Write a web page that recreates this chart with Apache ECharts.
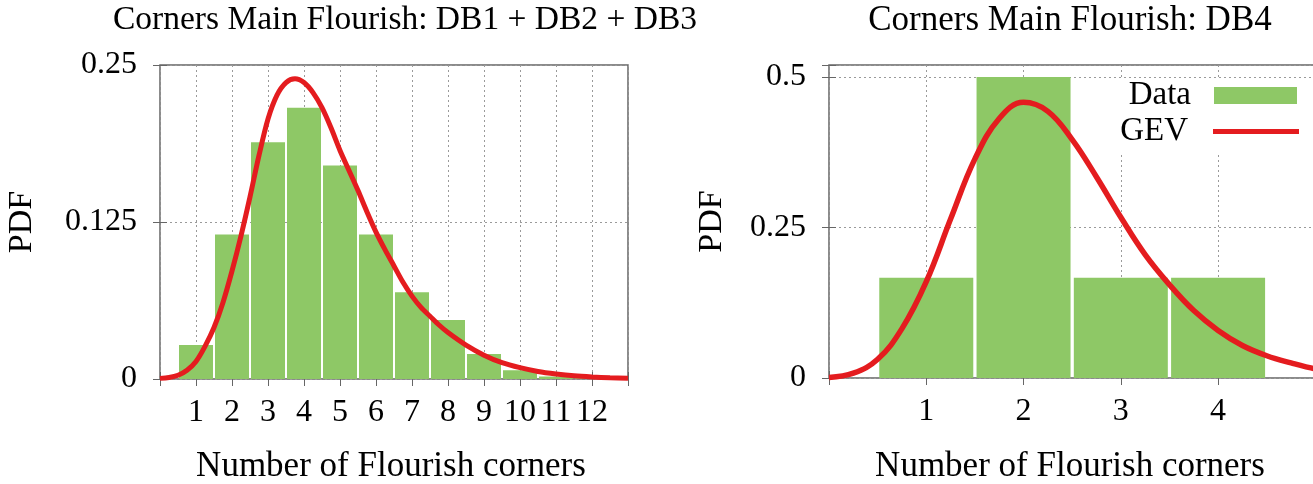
<!DOCTYPE html>
<html>
<head>
<meta charset="utf-8">
<title>Corners Main Flourish</title>
<script src="https://cdn.jsdelivr.net/npm/echarts@6/dist/echarts.min.js"></script>
<style>
  html, body { margin: 0; padding: 0; background: #fff; overflow: hidden; }
  /* the DB4 panel runs past the right edge of the window */
  #chart { width: 1400px; height: 484px; }
</style>
</head>
<body>
<div id="chart"></div>
<script>
// Histogram of flourish corner counts, DB1 + DB2 + DB3
const leftCorners = [1, 2, 3, 4, 5, 6, 7, 8, 9, 10, 11, 12];
const leftPdf = [0.027, 0.115, 0.1885, 0.216, 0.17, 0.115, 0.069, 0.047, 0.020, 0.007, 0.002, 0.001];
// Fitted GEV density, DB1 + DB2 + DB3
const leftFitX = [0, 0.25, 0.5, 0.75, 1, 1.25, 1.5, 1.75, 2, 2.25, 2.5, 2.75, 3, 3.25, 3.5, 3.75, 4, 4.25, 4.5, 4.75, 5, 5.25, 5.5, 5.75, 6, 6.25, 6.5, 6.75, 7, 7.25, 7.5, 7.75, 8, 8.5, 9, 9.5, 10, 10.5, 11, 11.5, 12, 12.5, 13];
const leftFitY = [0.0005, 0.0012, 0.003, 0.007, 0.014, 0.026, 0.041, 0.061, 0.086, 0.114, 0.145, 0.178, 0.207, 0.226, 0.236, 0.239, 0.236, 0.228, 0.216, 0.200, 0.182, 0.166, 0.150, 0.133, 0.117, 0.103, 0.090, 0.077, 0.066, 0.057, 0.050, 0.043, 0.037, 0.027, 0.019, 0.013, 0.009, 0.006, 0.004, 0.0025, 0.0016, 0.001, 0.0006];

// Histogram of flourish corner counts, DB4
const rightCorners = [1, 2, 3, 4];
const rightPdf = [0.1667, 0.5, 0.1667, 0.1667];
// Fitted GEV density, DB4
const rightFitX = [0, 0.25, 0.5, 0.75, 1, 1.25, 1.5, 1.75, 2, 2.25, 2.5, 2.75, 3, 3.25, 3.5, 3.75, 4, 4.25, 4.5, 4.75, 5, 5.25, 5.5];
const rightFitY = [0.001, 0.008, 0.031, 0.082, 0.160, 0.264, 0.364, 0.431, 0.458, 0.443, 0.396, 0.334, 0.267, 0.205, 0.155, 0.112, 0.079, 0.054, 0.037, 0.025, 0.015, 0.009, 0.005];

// Tick labels
const leftTicksX = [1, 2, 3, 4, 5, 6, 7, 8, 9, 10, 11, 12];
const leftTicksY = [0, 0.125, 0.25];
const rightTicksX = [1, 2, 3, 4];
const rightTicksY = [0, 0.25, 0.5];

const FONT = 'Liberation Serif';
const GREEN = '#8ec866';
const RED = '#e41c1f';
const FRAME = '#666';

const pairs = (xs, ys) => xs.map((x, i) => [x, ys[i]]);
const labelFrom = list => v => (list.some(t => Math.abs(t - v) < 1e-9) ? String(v) : '');

const splitStyle = { show: true, lineStyle: { color: '#9a9a9a', type: [2, 3], width: 1 } };
const tickIn = { show: true, inside: true, length: 7, lineStyle: { color: FRAME, width: 1 } };

function xAxisPair(gridIndex, min, max, ticks) {
  return [
    {
      type: 'value', gridIndex, min, max, interval: 1, position: 'bottom',
      axisLine: { show: false }, axisTick: tickIn,
      axisLabel: { formatter: labelFrom(ticks), margin: 18, fontFamily: FONT, fontSize: 32, color: '#000' },
      splitLine: splitStyle
    },
    {
      type: 'value', gridIndex, min, max, interval: 1, position: 'top',
      axisLine: { show: false }, axisTick: tickIn, axisLabel: { show: false }, splitLine: { show: false }
    }
  ];
}

function yAxisPair(gridIndex, min, max, interval, ticks, nameGap) {
  return [
    {
      type: 'value', gridIndex, min, max, interval, position: 'left',
      name: 'PDF', nameLocation: 'middle', nameGap,
      nameTextStyle: { fontFamily: FONT, fontSize: 34, color: '#000' },
      axisLine: { show: false }, axisTick: tickIn,
      axisLabel: { formatter: labelFrom(ticks), margin: 23, fontFamily: FONT, fontSize: 32, color: '#000' },
      splitLine: splitStyle
    },
    {
      type: 'value', gridIndex, min, max, interval, position: 'right',
      axisLine: { show: false }, axisTick: tickIn, axisLabel: { show: false }, splitLine: { show: false }
    }
  ];
}

const textBase = { fontFamily: FONT, fontWeight: 'normal', color: '#000' };

const option = {
  animation: false,
  backgroundColor: '#fff',
  title: [
    { text: 'Corners Main Flourish: DB1 + DB2 + DB3', left: 405, top: 3, padding: 0, textAlign: 'center', textVerticalAlign: 'top', textStyle: { ...textBase, fontSize: 33.5 } },
    { text: 'Corners Main Flourish: DB4', left: 1070, top: 3, padding: 0, textAlign: 'center', textVerticalAlign: 'top', textStyle: { ...textBase, fontSize: 35 } },
    { text: 'Number of Flourish corners', left: 391, top: 449, padding: 0, textAlign: 'center', textVerticalAlign: 'top', textStyle: { ...textBase, fontSize: 35 } },
    { text: 'Number of Flourish corners', left: 1070, top: 449, padding: 0, textAlign: 'center', textVerticalAlign: 'top', textStyle: { ...textBase, fontSize: 35 } }
  ],
  grid: [
    { left: 160, top: 65, width: 468, bottom: 105, show: true, borderColor: FRAME, borderWidth: 1.5, backgroundColor: 'transparent' },
    { left: 829, top: 65, width: 535, bottom: 106, show: true, borderColor: FRAME, borderWidth: 1.5, backgroundColor: 'transparent' }
  ],
  legend: [
    {
      data: ['Data'], right: 103, top: 79, orient: 'vertical', align: 'right',
      itemWidth: 83, itemHeight: 17, icon: 'rect', selectedMode: false,
      backgroundColor: '#fff', padding: [0, 0, 4, 30],
      textStyle: { fontFamily: FONT, fontSize: 33, color: '#000', lineHeight: 32, padding: [0, 18, 0, 0] }
    },
    {
      data: ['GEV'], right: 101, top: 115, orient: 'vertical', align: 'right',
      itemWidth: 86, itemHeight: 5, icon: 'rect', selectedMode: false,
      backgroundColor: '#fff', padding: [0, 0, 6, 30],
      textStyle: { fontFamily: FONT, fontSize: 33, color: '#000', lineHeight: 32, padding: [0, 20, 0, 0] }
    }
  ],
  xAxis: [
    ...xAxisPair(0, 0, 13, leftTicksX),
    ...xAxisPair(1, 0, 5.5, rightTicksX)
  ],
  yAxis: [
    ...yAxisPair(0, 0, 0.25, 0.125, leftTicksY, 121),
    ...yAxisPair(1, 0, 0.52, 0.25, rightTicksY, 100)
  ],
  series: [
    {
      name: 'Data', type: 'bar', xAxisIndex: 0, yAxisIndex: 0,
      data: pairs(leftCorners, leftPdf), barWidth: 34,
      itemStyle: { color: GREEN }
    },
    {
      name: 'GEV', type: 'line', xAxisIndex: 0, yAxisIndex: 0,
      data: pairs(leftFitX, leftFitY), smooth: 0.3, showSymbol: false, symbol: 'none', clip: false,
      lineStyle: { color: RED, width: 5 }, itemStyle: { color: RED }, z: 3
    },
    {
      name: 'Data', type: 'bar', xAxisIndex: 2, yAxisIndex: 2,
      data: pairs(rightCorners, rightPdf), barWidth: 94,
      itemStyle: { color: GREEN }
    },
    {
      name: 'GEV', type: 'line', xAxisIndex: 2, yAxisIndex: 2,
      data: pairs(rightFitX, rightFitY), smooth: 0.4, showSymbol: false, symbol: 'none', clip: false,
      lineStyle: { color: RED, width: 5.5 }, itemStyle: { color: RED }, z: 3
    }
  ]
};

const chart = echarts.init(document.getElementById('chart'), null, { renderer: 'canvas' });
chart.setOption(option);
</script>
</body>
</html>
